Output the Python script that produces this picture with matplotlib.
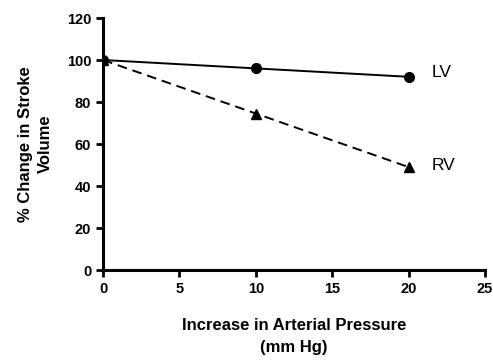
import matplotlib
matplotlib.use("Agg")
import matplotlib.pyplot as plt

pressure = [0, 10, 20]
lv = [100, 96, 92]
rv = [100, 74.5, 49]

plt.rcParams['font.family'] = ['Liberation Sans', 'DejaVu Sans']

fig = plt.figure(figsize=(4.93, 3.6), dpi=100)
ax = fig.add_axes([0.209, 0.25, 0.775, 0.70])

ax.plot(pressure, lv, color='black', lw=1.4, marker='o', ms=7)
ax.plot(pressure, rv, color='black', lw=1.4, ls=(0, (5, 3)), marker='^', ms=7)
ax.text(21.5, lv[-1] + 2, "LV", fontsize=12.5, va='center')
ax.text(21.5, rv[-1] + 1, "RV", fontsize=12.5, va='center')

ax.set_xlim(0, 25)
ax.set_ylim(0, 120)
ax.set_xticks([0, 5, 10, 15, 20, 25])
ax.set_yticks([0, 20, 40, 60, 80, 100, 120])
for s in ['top', 'right']:
    ax.spines[s].set_visible(False)
for s in ['left', 'bottom']:
    ax.spines[s].set_linewidth(2.2)
ax.tick_params(width=2, length=5, labelsize=10.5)
for lab in ax.get_xticklabels() + ax.get_yticklabels():
    lab.set_fontweight('bold')
ax.set_xlabel("Increase in Arterial Pressure\n(mm Hg)", fontsize=12,
              fontweight='bold', labelpad=16, linespacing=1.6)
ax.set_ylabel("% Change in Stroke\nVolume", fontsize=12, fontweight='bold',
              labelpad=10, linespacing=1.4)

fig.savefig("out.png", dpi=100)
